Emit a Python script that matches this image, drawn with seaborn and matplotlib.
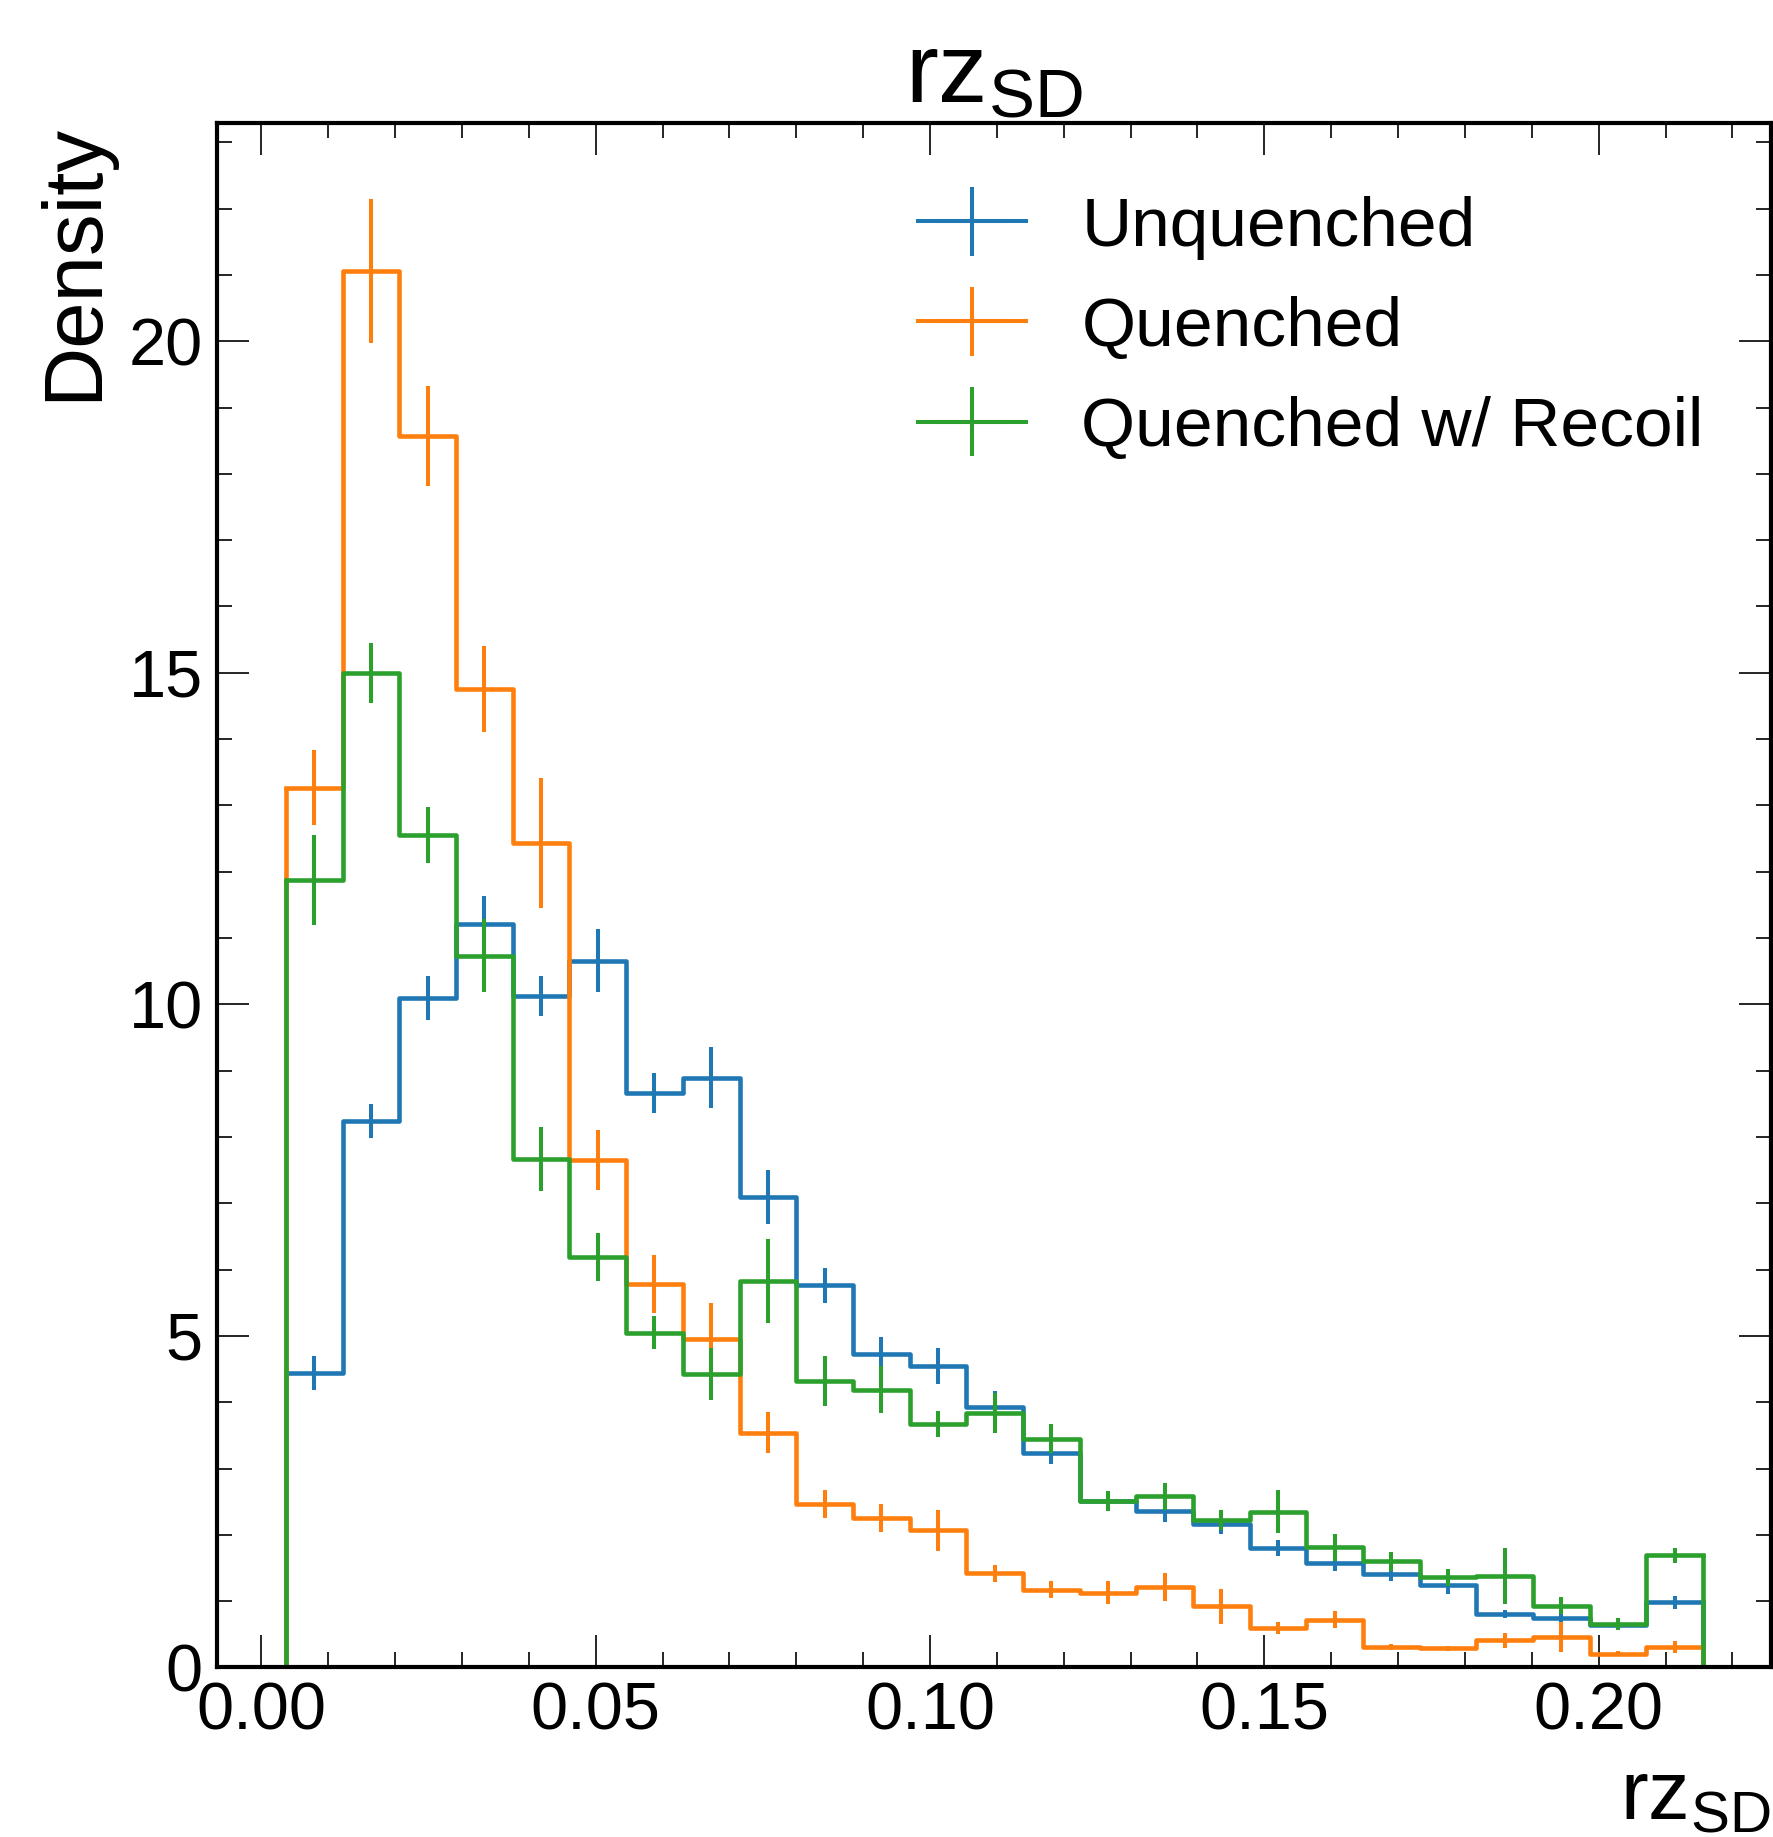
import numpy as np
import pandas as pd
import matplotlib
matplotlib.use("Agg")
import matplotlib.pyplot as plt
import seaborn as sns
from matplotlib.ticker import AutoMinorLocator, MultipleLocator

# ---------------- data ----------------
edge_lo = 0.0037
edge_hi = 0.2156
n_bins = 25

labels = ["Unquenched", "Quenched", "Quenched w/ Recoil"]
colors = ["#1f77b4", "#ff7f0e", "#2ca02c"]

unquenched = [4.44, 8.24, 10.09, 11.21, 10.13, 10.66, 8.66, 8.89, 7.09, 5.76,
              4.73, 4.54, 3.93, 3.23, 2.51, 2.36, 2.16, 1.80, 1.57, 1.41,
              1.25, 0.80, 0.75, 0.64, 0.98]
unquenched_err = [0.25, 0.26, 0.33, 0.43, 0.30, 0.47, 0.30, 0.46, 0.41, 0.27,
                  0.26, 0.27, 0.24, 0.16, 0.13, 0.17, 0.15, 0.12, 0.11, 0.11,
                  0.14, 0.06, 0.06, 0.06, 0.10]

quenched = [13.27, 21.06, 18.57, 14.75, 12.43, 7.65, 5.78, 4.96, 3.54, 2.46,
            2.26, 2.07, 1.42, 1.17, 1.13, 1.21, 0.92, 0.59, 0.72, 0.31,
            0.29, 0.41, 0.46, 0.21, 0.31]
quenched_err = [0.57, 1.085, 0.76, 0.65, 0.98, 0.45, 0.44, 0.53, 0.31, 0.21,
                0.21, 0.31, 0.13, 0.13, 0.17, 0.21, 0.27, 0.09, 0.13, 0.04,
                0.04, 0.11, 0.23, 0.04, 0.09]

recoil = [11.87, 15.00, 12.55, 10.73, 7.67, 6.19, 5.05, 4.42, 5.83, 4.32,
          4.19, 3.67, 3.84, 3.45, 2.51, 2.58, 2.22, 2.35, 1.81, 1.60,
          1.36, 1.38, 0.93, 0.65, 1.69]
recoil_err = [0.68, 0.45, 0.42, 0.55, 0.48, 0.36, 0.25, 0.39, 0.63, 0.38,
              0.36, 0.19, 0.30, 0.22, 0.15, 0.20, 0.15, 0.33, 0.20, 0.14,
              0.13, 0.42, 0.13, 0.09, 0.11]

series = [unquenched, quenched, recoil]
errors = [unquenched_err, quenched_err, recoil_err]

# ---------------- style ----------------
plt.rcParams["font.family"] = ["Liberation Sans", "DejaVu Sans"]
plt.rcParams["mathtext.fontset"] = "custom"
plt.rcParams["mathtext.rm"] = "Liberation Sans"
plt.rcParams["mathtext.it"] = "Liberation Sans:italic"
plt.rcParams["mathtext.bf"] = "Liberation Sans:bold"
plt.rcParams["mathtext.default"] = "regular"

edges = np.linspace(edge_lo, edge_hi, n_bins + 1)
centers = 0.5 * (edges[:-1] + edges[1:])

fig = plt.figure(figsize=(17.73, 18.37), dpi=100)
ax = fig.add_axes([0.1223, 0.0923, 0.8763, 0.8407])

LW = 3.3
handles = []
for vals, errs, c, lab in zip(series, errors, colors, labels):
    df = pd.DataFrame({"x": centers, "w": np.asarray(vals, dtype=float)})
    sns.histplot(data=df, x="x", weights="w", bins=list(edges), element="step",
                 fill=False, color=c, linewidth=LW, ax=ax)
    # close the outline down to zero at both outer edges
    ax.plot([edges[0], edges[0]], [0, vals[0]], color=c, lw=LW,
            solid_capstyle="butt")
    ax.plot([edges[-1], edges[-1]], [0, vals[-1]], color=c, lw=LW,
            solid_capstyle="butt")
    ax.errorbar(centers, vals, yerr=errs, fmt="none", ecolor=c,
                elinewidth=2.9, capsize=0)
    h = ax.errorbar([np.nan], [np.nan], xerr=[1], yerr=[1], color=c,
                    lw=2.9, elinewidth=2.9, capsize=0, label=lab)
    handles.append(h)

ax.set_xlim(-0.00666, 0.2257)
ax.set_ylim(0, 23.29)

ax.xaxis.set_major_locator(MultipleLocator(0.05))
ax.xaxis.set_minor_locator(AutoMinorLocator(5))
ax.yaxis.set_major_locator(MultipleLocator(5))
ax.yaxis.set_minor_locator(AutoMinorLocator(5))
ax.xaxis.set_major_formatter(matplotlib.ticker.FormatStrFormatter("%.2f"))

ax.tick_params(which="both", direction="in", top=True, right=True,
               labelsize=48, pad=10)
ax.tick_params(which="major", length=23, width=1.2)
ax.tick_params(which="minor", length=11, width=1.2)
for s in ax.spines.values():
    s.set_linewidth(3)

ax.set_ylabel("Density", fontsize=60, loc="top", labelpad=11)
ax.set_xlabel(r"rz$_{\mathregular{SD}}$", fontsize=60, loc="right", labelpad=11)
ax.set_title(r"rz$_{\mathregular{SD}}$", fontsize=71, pad=15)

ax.legend(handles=handles, labels=labels, loc="upper right",
          bbox_to_anchor=(0.957, 0.953), frameon=False, fontsize=50,
          handlelength=1.55, handletextpad=0.8, labelspacing=0.52,
          borderaxespad=0, borderpad=0)

fig.savefig("out.png", dpi=100)
